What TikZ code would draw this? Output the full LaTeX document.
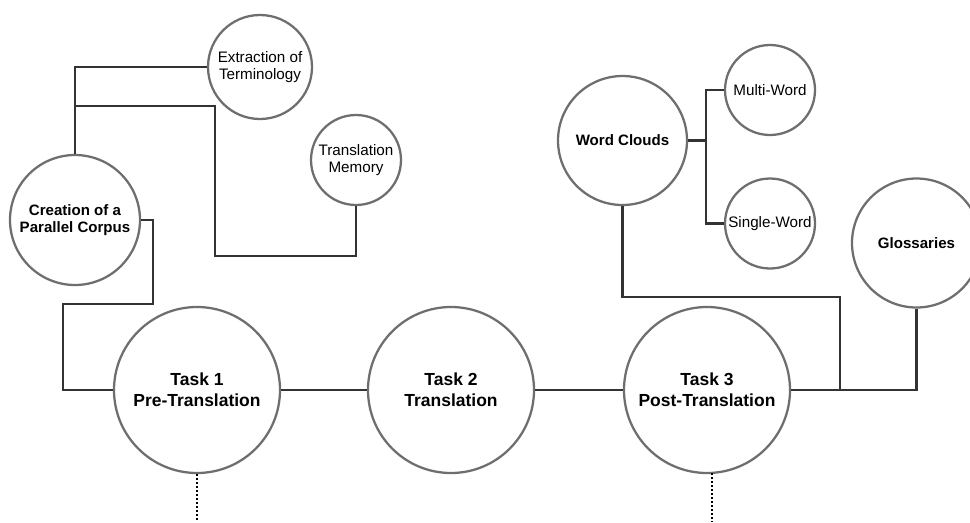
\documentclass[tikz,border=0pt]{standalone}
\usepackage{fontspec}
\setmainfont{Liberation Sans}
\definecolor{ringgray}{HTML}{6E6E6E}
\definecolor{linegray}{HTML}{333333}
\begin{document}
\begin{tikzpicture}[x=0.75pt,y=-0.75pt,
  bub/.style={circle, draw=ringgray, line width=1.7pt, fill=white, inner sep=0pt,
    align=center, minimum size=#1*1.5pt},
  small/.style={font=\fontsize{11.4}{13.1}\selectfont},
  smallb/.style={font=\fontsize{11.3}{13.1}\selectfont\bfseries},
  taskf/.style={font=\fontsize{13.1}{15.8}\selectfont\bfseries},
  conn/.style={draw=linegray, line width=2.1pt},
  dotline/.style={draw=black, line width=1.3pt, dash pattern=on 1.3pt off 1.7pt}
]
\useasboundingbox (0,0) rectangle (970,522);

% nodes
\node[bub=83, taskf] (task1) at (197,390) {Task 1\\Pre-Translation};
\node[bub=83, taskf] (task2) at (451,390) {Task 2\\Translation};
\node[bub=83, taskf] (task3) at (707,390) {Task 3\\Post-Translation};
\node[bub=65, smallb] (creation) at (75,220) {Creation of a\\Parallel Corpus};
\node[bub=52, small] (extract) at (260,67) {Extraction of\\Terminology};
\node[bub=45, small] (tm) at (356,160) {Translation\\Memory};
\node[bub=64.5, smallb] (wc) at (622.5,140.5) {Word Clouds};
\node[bub=45, small] (multi) at (770,90) {Multi-Word};
\node[bub=45, small] (single) at (770,223.5) {Single-Word};
\node[bub=64.5, smallb] (gloss) at (916.5,243) {Glossaries};

% helper coordinates
\coordinate (b1) at (75,106);
\coordinate (c2) at (215,256);
\coordinate (c3) at (153,304);
\coordinate (c4) at (63,390);
\coordinate (c5) at (840,297);
\coordinate (c6) at (706,140.5);
\coordinate (d3) at (712,473);
\coordinate (e1) at (197,522);
\coordinate (e3) at (712,522);

% connectors
\draw[conn] (creation.north) |- (extract.west);
\draw[conn] (b1) -| (c2) -| (tm.south);
\draw[conn] (creation.east) -| (c3) -| (c4) -- (task1.west);
\draw[conn] (task1.east) -- (task2.west);
\draw[conn] (task2.east) -- (task3.west);
\draw[conn] (task3.east) -| (gloss.south);
\draw[conn] (wc.south) |- (c5) -- (c5 |- task3.east);
\draw[conn] (wc.east) -- (c6);
\draw[conn] (multi.west) -| (c6) |- (single.west);

% dotted continuations
\draw[dotline] (task1.south) -- (e1);
\draw[dotline] (d3) -- (e3);
\end{tikzpicture}
\end{document}
